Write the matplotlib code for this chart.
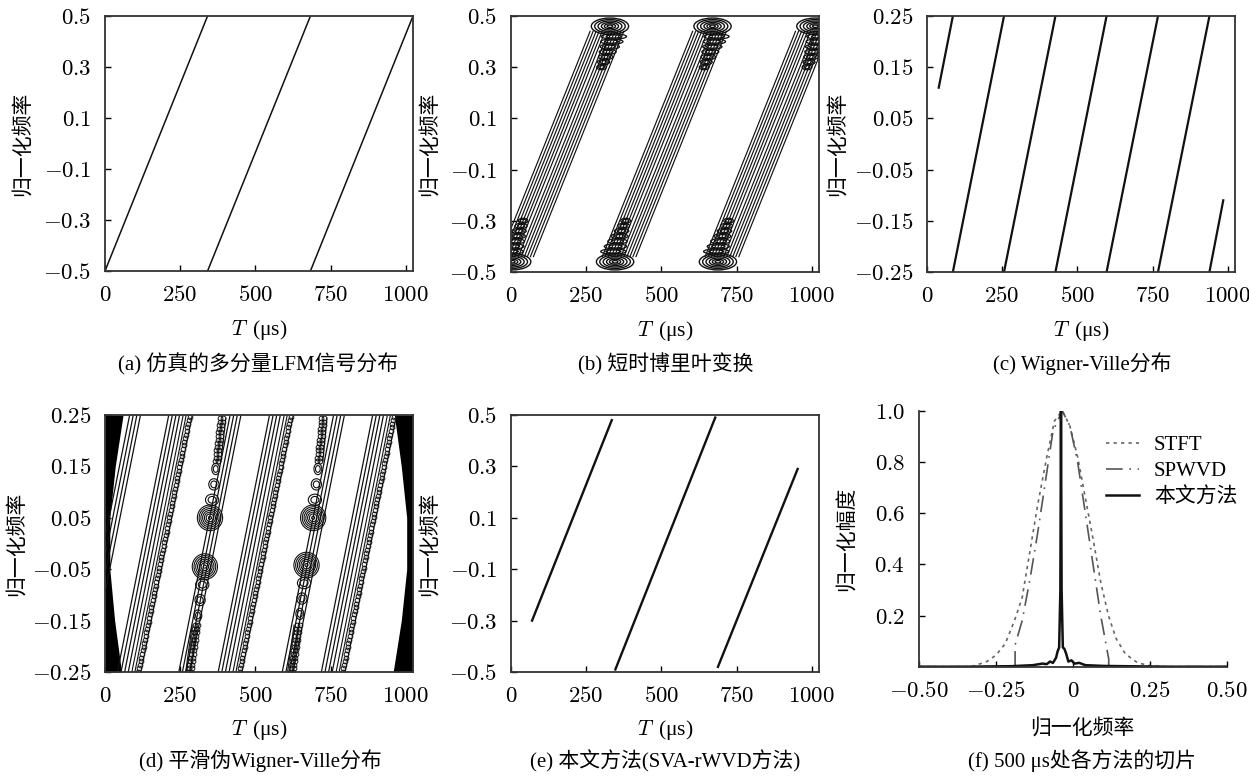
import numpy as np
import matplotlib
matplotlib.use("Agg")
import matplotlib.pyplot as plt
from matplotlib.patches import Ellipse

plt.rcParams['mathtext.fontset'] = 'cm'
plt.rcParams['font.family'] = ['Liberation Serif', 'Noto Sans CJK SC']
plt.rcParams['axes.unicode_minus'] = True

W, H = 1249, 776

# ---------------- data ----------------
t_ticks = [0, 250, 500, 750, 1000]
f_ticks_wide = [-0.5, -0.3, -0.1, 0.1, 0.3, 0.5]
f_ticks_narrow = [-0.25, -0.15, -0.05, 0.05, 0.15, 0.25]
t_max = 1024
slope = 341.33          # us per unit of normalised frequency

# (a) simulated multi-component LFM
lfm_t0 = [0, 341, 683]
lfm_t1 = [341, 683, 1024]
lfm_f0 = [-0.5, -0.5, -0.5]
lfm_f1 = [0.5, 0.5, 0.5]

# (b) STFT contour bands
stft_offsets = [-58, -48, -38, -28, -18, -8, 4, 14, 24, 34, 44, 54]
stft_top_t = [329, 670, 1012]
stft_bot_t = [4, 346, 688]
stft_blob_f = 0.46
stft_rings = [1.0, 0.82, 0.64, 0.46, 0.3, 0.15]
ladder_f = [0.30, 0.32, 0.34, 0.36, 0.38, 0.40, 0.42]
ladder_hw = [16, 20, 24, 28, 32, 37, 42]

# (c) Wigner-Ville
wvd_t0 = [39, 86, 256, 427, 597, 768, 939]
wvd_t1 = [86, 256, 427, 597, 768, 939, 985]
wvd_f0 = [0.11, -0.25, -0.25, -0.25, -0.25, -0.25, -0.25]
wvd_f1 = [0.25, 0.25, 0.25, 0.25, 0.25, 0.25, -0.11]

# (d) smoothed pseudo WVD
spwvd_top_t = [100, 230, 274, 434, 565, 610, 778, 908, 953]
spwvd_wavy = [0, 0, 1, 0, 0, 1, 0, 0, 1]
spwvd_line_off = [-18, -6, 6, 18]
cross_top_t = [389, 725]
cross_up_t = [349, 692]
cross_up_f = [0.05, 0.05]
cross_lo_t = [332, 670]
cross_lo_f = [-0.045, -0.042]
cross_bot_t = [282, 621]
cross_rings = [1.0, 0.86, 0.72, 0.58, 0.44, 0.3, 0.12]
edge_f = [-0.25, -0.15, -0.05, 0.05, 0.15, 0.25]
edge_left = [55, 32, 16, 16, 34, 60]
edge_right = [958, 985, 1003, 1003, 985, 962]

# (e) proposed method (SVA-rWVD)
srwvd_t0 = [70, 347, 688]
srwvd_t1 = [335, 679, 953]
srwvd_f0 = [-0.30, -0.49, -0.48]
srwvd_f1 = [0.48, 0.49, 0.29]

# (f) slice at 500 us
stft_x = [-0.5, -0.33, -0.28, -0.25, -0.22, -0.19, -0.165, -0.14, -0.115, -0.085, -0.06,
          -0.035, -0.01, 0.015, 0.04, 0.065, 0.09, 0.115, 0.14, 0.17, 0.21, 0.25, 0.30, 0.5]
stft_y = [0.0, 0.0, 0.02, 0.045, 0.09, 0.18, 0.27, 0.45, 0.63, 0.82, 0.96,
          1.0, 0.94, 0.82, 0.66, 0.5, 0.33, 0.2, 0.11, 0.05, 0.015, 0.004, 0.0, 0.0]
spwvd_x = [-0.5, -0.188, -0.188, -0.165, -0.14, -0.115, -0.09, -0.065, -0.035, -0.01,
           0.015, 0.04, 0.065, 0.09, 0.116, 0.116, 0.5]
spwvd_y = [0.0, 0.0, 0.085, 0.18, 0.34, 0.52, 0.72, 0.92, 1.0, 0.94,
           0.8, 0.6, 0.4, 0.2, 0.03, 0.0, 0.0]
prop_x = [-0.5, -0.35, -0.2, -0.13, -0.1, -0.085, -0.075, -0.065, -0.055, -0.05, -0.045,
          -0.041, -0.039, -0.037, -0.033, -0.028, -0.022, -0.015, -0.005, 0.005, 0.02,
          0.04, 0.1, 0.3, 0.5]
prop_y = [0.0, 0.0, 0.002, 0.006, 0.012, 0.01, 0.02, 0.015, 0.035, 0.06, 0.075,
          0.3, 1.0, 0.3, 0.075, 0.07, 0.05, 0.02, 0.025, 0.012, 0.015,
          0.006, 0.003, 0.0, 0.0]
slice_xticks = [-0.5, -0.25, 0, 0.25, 0.5]
slice_xlabels = ['$-0.50$', '$-0.25$', '$0$', '$0.25$', '$0.50$']
slice_yticks = [0.2, 0.4, 0.6, 0.8, 1.0]

captions = ['(a) 仿真的多分量LFM信号分布', '(b) 短时博里叶变换', '(c) Wigner-Ville分布',
            '(d) 平滑伪Wigner-Ville分布', '(e) 本文方法(SVA-rWVD方法)', '(f) 500 μs处各方法的切片']

# ---------------- layout (pixel boxes) ----------------
boxes = [(105, 413, 16, 271), (511, 819, 16, 272), (927, 1235, 16, 272),
         (105, 413, 415, 672), (511, 819, 415, 672), (919, 1227, 410.7, 666.7)]
ylab_x = [-0.234, -0.23, -0.256, -0.253, -0.23, -0.20]
xlab_y = [-0.184, -0.184, -0.184, -0.179, -0.179, -0.196]
cap_xy = [(258, 364), (666, 364), (1082, 364), (260, 761), (665, 761), (1082, 761)]

fig = plt.figure(figsize=(W / 100, H / 100), dpi=100)
axs = []
for (l, r, t, b) in boxes:
    axs.append(fig.add_axes([l / W, 1 - b / H, (r - l) / W, (b - t) / H]))

ink = '#111111'


def style_tf(ax, fticks, i):
    ax.set_xlim(0, t_max)
    ax.set_ylim(fticks[0], fticks[-1])
    ax.set_xticks(t_ticks)
    ax.set_xticklabels(['$%d$' % v for v in t_ticks])
    ax.set_yticks(fticks)
    dec = 1 if abs(fticks[-1] - 0.5) < 1e-9 else 2
    ax.set_yticklabels(['$%.*f$' % (dec, v) for v in fticks])
    ax.tick_params(direction='in', length=4, width=1, labelsize=16.5, pad=10)
    for sp in ax.spines.values():
        sp.set_linewidth(1.3)
        sp.set_color('#333333')
    ax.set_xlabel('$T\\,$ (μs)', fontsize=15.5)
    ax.xaxis.set_label_coords(0.5, xlab_y[i])
    ax.set_ylabel('归一化频率', fontsize=15, family=['Noto Sans CJK SC'])
    ax.yaxis.set_label_coords(ylab_x[i], 0.5)


# (a)
ax = axs[0]
for t0, t1, f0, f1 in zip(lfm_t0, lfm_t1, lfm_f0, lfm_f1):
    ax.plot([t0, t1], [f0, f1], color=ink, lw=1.1)
style_tf(ax, f_ticks_wide, 0)

# (b)
ax = axs[1]
for s in lfm_t0:
    for o in stft_offsets:
        f = np.array([-0.44, 0.44])
        ax.plot(s + o + (f + 0.5) * slope, f, color=ink, lw=0.85)
    for fl, hw in zip(ladder_f, ladder_hw):
        tc = s + (fl + 0.5) * slope + 28
        for sc in (1.0, 0.6):
            ax.add_patch(Ellipse((tc, fl), 2 * hw * sc, 0.02 * sc, fill=False, ec=ink, lw=0.9))
        tc = s + (-fl + 0.5) * slope - 28
        for sc in (1.0, 0.6):
            ax.add_patch(Ellipse((tc, -fl), 2 * hw * sc, 0.02 * sc, fill=False, ec=ink, lw=0.9))
for tt, tb in zip(stft_top_t, stft_bot_t):
    for sc in stft_rings:
        ax.add_patch(Ellipse((tt, stft_blob_f), 124 * sc, 0.064 * sc, fill=False, ec=ink, lw=1.0))
        ax.add_patch(Ellipse((tb, -stft_blob_f), 124 * sc, 0.064 * sc, fill=False, ec=ink, lw=1.0))
style_tf(ax, f_ticks_wide, 1)

# (c)
ax = axs[2]
for t0, t1, f0, f1 in zip(wvd_t0, wvd_t1, wvd_f0, wvd_f1):
    ax.plot([t0, t1], [f0, f1], color=ink, lw=1.6)
style_tf(ax, f_ticks_narrow, 2)

# (d)
ax = axs[3]
ax.fill_betweenx(edge_f, 0, edge_left, color='black', lw=0)
ax.fill_betweenx(edge_f, edge_right, t_max, color='black', lw=0)
fs = np.array([-0.25, 0.25])
for T, wv in zip(spwvd_top_t, spwvd_wavy):
    if wv:
        for o in (-14, -4):
            ax.plot(T + o + (fs - 0.25) * slope, fs, color=ink, lw=0.8)
        fr = np.arange(-0.25, 0.2501, 0.007)
        ax.plot(T + 8 + (fr - 0.25) * slope, fr, ls='none', marker='o', ms=3.4,
                mfc='none', mec=ink, mew=0.7)
        ax.plot(T + 16 + (fs - 0.25) * slope, fs, color=ink, lw=0.8)
    else:
        for o in spwvd_line_off:
            ax.plot(T + o + (fs - 0.25) * slope, fs, color=ink, lw=0.9)
for tt, tu, fu, tl, fl, tb in zip(cross_top_t, cross_up_t, cross_up_f,
                                  cross_lo_t, cross_lo_f, cross_bot_t):
    # upper chain
    fr = np.arange(fu + 0.11, 0.2501, 0.007)
    tr = tu + (fr - fu) / (0.25 - fu) * (tt - tu)
    for o in (-5, 5):
        ax.plot(tr + o, fr, ls='none', marker='o', ms=3.4, mfc='none', mec=ink, mew=0.7)
    ax.plot(tr + 14, fr, color=ink, lw=0.8)
    for d, hw in zip([0.035, 0.065, 0.095], [22, 17, 13]):
        tc = tu + d / (0.25 - fu) * (tt - tu)
        for sc in (1.0, 0.6):
            ax.add_patch(Ellipse((tc, fu + d), 2 * hw * sc, 0.022 * sc, fill=False, ec=ink, lw=0.8))
    for sc in cross_rings:
        ax.add_patch(Ellipse((tu, fu), 84 * sc, 0.05 * sc, fill=False, ec=ink, lw=0.8))
    # lower chain
    fr = np.arange(-0.25, fl - 0.11, 0.007)
    tr = tl + (fr - fl) / (-0.25 - fl) * (tb - tl)
    for o in (-5, 5):
        ax.plot(tr + o, fr, ls='none', marker='o', ms=3.4, mfc='none', mec=ink, mew=0.7)
    ax.plot(tr - 14, fr, color=ink, lw=0.8)
    for d, hw in zip([0.035, 0.065, 0.095], [22, 17, 13]):
        tc = tl + d / (0.25 + fl) * (tb - tl)
        for sc in (1.0, 0.6):
            ax.add_patch(Ellipse((tc, fl - d), 2 * hw * sc, 0.022 * sc, fill=False, ec=ink, lw=0.8))
    for sc in cross_rings:
        ax.add_patch(Ellipse((tl, fl), 84 * sc, 0.05 * sc, fill=False, ec=ink, lw=0.8))
style_tf(ax, f_ticks_narrow, 3)

# (e)
ax = axs[4]
for t0, t1, f0, f1 in zip(srwvd_t0, srwvd_t1, srwvd_f0, srwvd_f1):
    ax.plot([t0, t1], [f0, f1], color=ink, lw=1.7)
style_tf(ax, f_ticks_wide, 4)

# (f)
ax = axs[5]
ax.plot(stft_x, stft_y, color='#666666', lw=1.2, ls=(0, (2, 2.5)), label='STFT')
ax.plot(spwvd_x, spwvd_y, color='#555555', lw=1.2, ls=(0, (10, 4, 1, 4)), label='SPWVD')
ax.plot(prop_x, prop_y, color=ink, lw=1.8, label='本文方法')
ax.set_xlim(-0.5, 0.5)
ax.set_ylim(0, 1.0)
ax.set_xticks(slice_xticks)
ax.set_xticklabels(slice_xlabels)
ax.set_yticks(slice_yticks)
ax.set_yticklabels(['$%.1f$' % v for v in slice_yticks])
ax.tick_params(direction='in', length=4, width=1, labelsize=16.5, pad=10)
ax.spines['top'].set_visible(False)
ax.spines['right'].set_visible(False)
for k in ('left', 'bottom'):
    ax.spines[k].set_linewidth(1.3)
    ax.spines[k].set_color('#333333')
ax.set_xlabel('归一化频率', fontsize=15, family=['Noto Sans CJK SC'])
ax.xaxis.set_label_coords(0.53, xlab_y[5])
ax.set_ylabel('归一化幅度', fontsize=15, family=['Noto Sans CJK SC'])
ax.yaxis.set_label_coords(ylab_x[5], 0.5)
ax.legend(loc='upper left', bbox_to_anchor=(0.58, 0.935), frameon=False, fontsize=15,
          handlelength=1.6, handletextpad=0.7, labelspacing=0.3, borderaxespad=0)

for txt, (x, y) in zip(captions, cap_xy):
    fig.text(x / W, 1 - y / H, txt, ha='center', va='center', fontsize=15)

fig.savefig('out.png', dpi=100)
